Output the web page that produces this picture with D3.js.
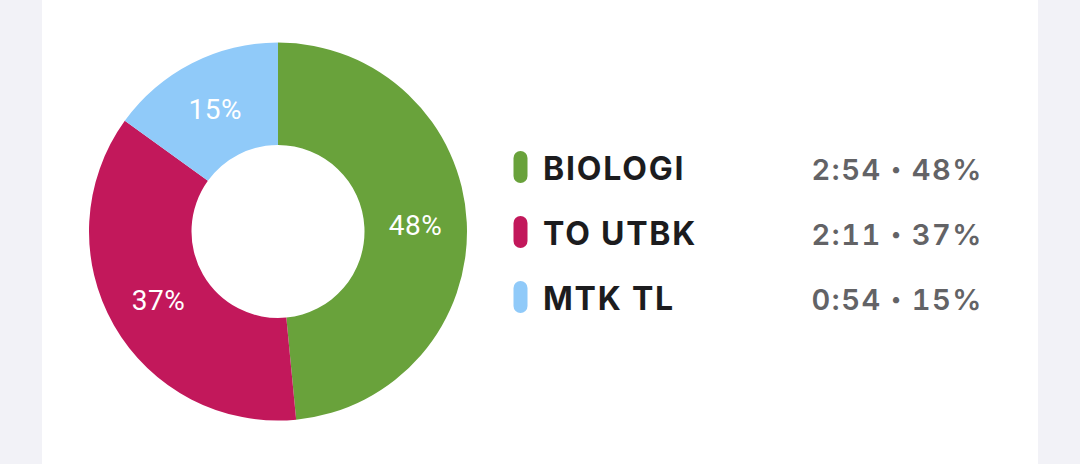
<!DOCTYPE html>
<html>
<head>
<meta charset="utf-8">
<script src="https://cdn.jsdelivr.net/npm/d3@7"></script>
<style>
  html, body { margin: 0; padding: 0; background: #f2f2f7; }
  svg { display: block; }
</style>
</head>
<body>
<svg id="chart" width="1080" height="464"></svg>
<script>
const categories = ["BIOLOGI", "TO UTBK", "MTK TL"];
const minutes = [174, 131, 54];
const durationLabels = ["2:54", "2:11", "0:54"];
const percentLabels = ["48%", "37%", "15%"];
const colors = ["#69a23b", "#c2185b", "#90caf9"];

const svg = d3.select("#chart");
svg.append("rect").attr("x", 42).attr("y", 0).attr("width", 996).attr("height", 464).attr("fill", "#ffffff");

const cx = 278, cy = 231.5, outerR = 189, innerR = 86.5;
const pie = d3.pie().sort(null).value(d => d.v);
const data = categories.map((c, i) => ({ c, v: minutes[i], pct: percentLabels[i], dur: durationLabels[i], col: colors[i] }));
const arcs = pie(data);
const arc = d3.arc().innerRadius(innerR).outerRadius(outerR);

const g = svg.append("g").attr("transform", `translate(${cx},${cy})`);
g.selectAll("path").data(arcs).join("path")
  .attr("d", arc).attr("fill", d => d.data.col);
g.selectAll("text").data(arcs).join("text")
  .attr("transform", d => `translate(${arc.centroid(d)})`)
  .attr("text-anchor", "middle").attr("dy", "0.36em")
  .attr("font-family", "Roboto, sans-serif").attr("font-size", 28)
  .attr("letter-spacing", 0.5)
  .attr("fill", "#ffffff")
  .text(d => d.data.pct);

const y = d3.scalePoint().domain(categories).range([180, 310]);
const leg = svg.append("g");
const rows = leg.selectAll("g").data(data).join("g")
  .attr("transform", d => `translate(0,${y(d.c)})`);
rows.append("rect").attr("x", 513.5).attr("y", -29).attr("width", 14).attr("height", 32)
  .attr("rx", 7).attr("fill", d => d.col);
rows.append("text").attr("x", 543).attr("y", 0)
  .attr("font-family", "Inter, sans-serif").attr("font-weight", 700).attr("font-size", 32)
  .attr("letter-spacing", 1.8)
  .attr("fill", "#1c1c1e").text(d => d.c);
const vt = rows.append("text").attr("x", 983).attr("y", 0).attr("text-anchor", "end")
  .attr("font-family", "Inter, sans-serif").attr("font-weight", 600).attr("font-size", 29)
  .attr("letter-spacing", 1.5)
  .style("font-variant-numeric", "tabular-nums")
  .attr("fill", "#636366");
vt.append("tspan").text(d => d.dur + "  ");
vt.append("tspan").attr("font-size", 20).attr("dy", -4).text("\u2022");
vt.append("tspan").attr("dy", 4).text(d => "  " + d.pct);
</script>
</body>
</html>
